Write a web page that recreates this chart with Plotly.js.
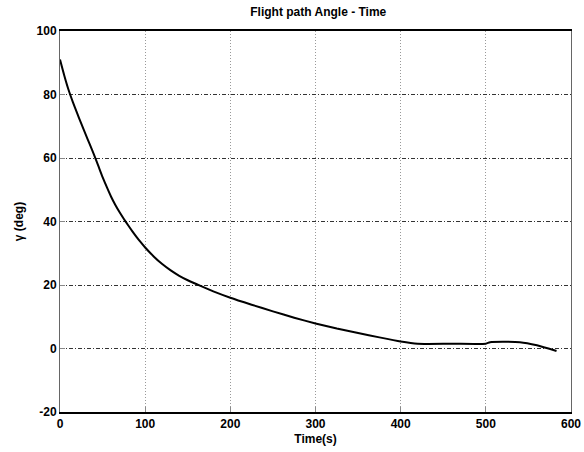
<!DOCTYPE html>
<html>
<head>
<meta charset="utf-8">
<script src="https://cdn.plot.ly/plotly-3.0.1.min.js"></script>
<style>html,body{margin:0;padding:0;background:#fff;}#chart{width:584px;height:452px;}</style>
</head>
<body>
<div id="chart"></div>
<script>
const timeS = [0, 5, 10, 15, 20, 25, 30, 35, 40, 45, 50, 55, 60, 65, 70, 75, 80, 85, 90, 95, 100, 110, 120, 130, 140, 150, 165, 180, 200, 225, 250, 275, 300, 325, 350, 375, 400, 420, 460, 500, 505, 540, 560, 583];
const gammaDeg = [91, 86, 81.5, 77.7, 74.2, 70.8, 67.5, 64.3, 61, 57.5, 54, 50.8, 47.8, 45.2, 42.9, 40.8, 38.8, 36.9, 35.1, 33.4, 31.8, 29, 26.6, 24.6, 22.9, 21.5, 19.7, 18, 16, 13.8, 11.7, 9.7, 7.9, 6.3, 4.9, 3.5, 2.2, 1.5, 1.5, 1.5, 2.0, 2.0, 1.0, -0.8];
const xTicks = [0, 100, 200, 300, 400, 500, 600];
const yTicks = [-20, 0, 20, 40, 60, 80, 100];

const fontBold = {family: 'Liberation Sans, Arial, sans-serif', size: 12, color: '#000', weight: 'bold'};

Plotly.newPlot('chart', [{
  x: timeS, y: gammaDeg, type: 'scatter', mode: 'lines',
  line: {color: '#000', width: 2, shape: 'spline', smoothing: 0.6}
}], {
  width: 584, height: 452,
  margin: {l: 60, r: 13, t: 31, b: 40},
  paper_bgcolor: '#fff', plot_bgcolor: '#fff',
  showlegend: false,
  title: {text: 'Flight path Angle - Time', font: fontBold, x: 0.545, xanchor: 'center', y: 0.975, yanchor: 'middle'},
  xaxis: {
    range: [0, 600], tickvals: xTicks, ticktext: xTicks.map(String),
    showgrid: true, gridcolor: '#999', griddash: '1px,2px', gridwidth: 1,
    showline: true, linecolor: '#000', linewidth: 2, mirror: true,
    ticks: 'inside', ticklen: 5, tickcolor: '#888',
    tickfont: fontBold, zeroline: false,
    title: {text: 'Time(s)', font: fontBold, standoff: 4}
  },
  yaxis: {
    range: [-20, 100], tickvals: yTicks, ticktext: yTicks.map(String),
    showgrid: true, gridcolor: '#333', griddash: '4px,2px,1px,2px', gridwidth: 1,
    showline: true, linecolor: '#666', linewidth: 1, mirror: true,
    ticks: 'inside', ticklen: 5, tickcolor: '#888',
    tickfont: fontBold, zeroline: false,
    title: {text: 'γ (deg)', font: fontBold, standoff: 10}
  }
}, {staticPlot: true});
</script>
</body>
</html>
